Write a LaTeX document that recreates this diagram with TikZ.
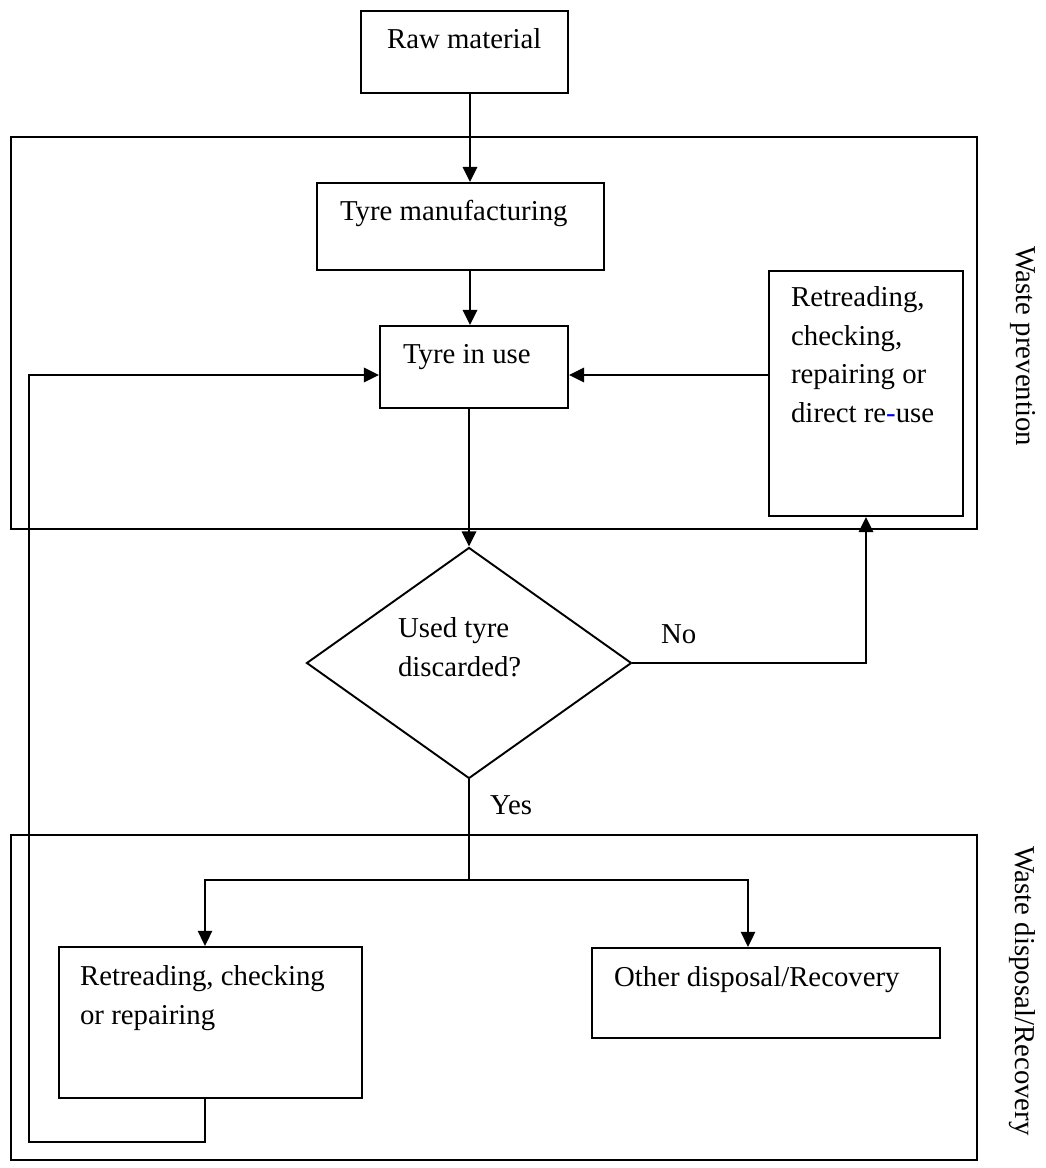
\documentclass[tikz,border=0pt]{standalone}
\usepackage{fontspec}
\setmainfont{Liberation Serif}
\usetikzlibrary{shapes.geometric,arrows.meta}
\newlength\px
\setlength\px{0.41667pt}

\begin{document}
\begin{tikzpicture}
[x=0.41667pt, y=-0.41667pt, font=\fontsize{12}{16}\selectfont, line width=0.9pt,
box/.style={rectangle, draw, inner sep=0pt},
frame/.style={rectangle, draw, line width=0.7pt, inner sep=0pt},
txt/.style={inner sep=0pt, anchor=base west, align=left},
side/.style={rotate=-90, anchor=west, inner sep=0pt},
decision/.style={diamond, draw, line width=0.8pt, inner sep=0pt},
arr/.style={-{Triangle[length=6.3pt,width=6pt]}}]

\useasboundingbox (0,0) rectangle (1045,1168);

% frames
\node[frame, minimum width=966\px, minimum height=392\px] (prev) at (494,333) {};
\node[frame, minimum width=966\px, minimum height=325\px] (disp) at (494,997.5) {};
\node[side] (prevlbl) at (1023,245) {Waste prevention};
\node[side] (displbl) at (1022,845) {Waste disposal/Recovery};

% boxes
\node[box, minimum width=207\px, minimum height=82\px] (raw) at (464.5,52) {};
\node[box, minimum width=287\px, minimum height=87\px] (tm) at (460.5,226.5) {};
\node[box, minimum width=188\px, minimum height=82\px] (tiu) at (474,367) {};
\node[box, minimum width=194\px, minimum height=245\px] (rr) at (866,393.5) {};
\node[decision, minimum width=325\px, minimum height=231\px] (dec) at (469,663) {};
\node[box, minimum width=303\px, minimum height=151\px] (lr) at (210.5,1022.5) {};
\node[box, minimum width=348\px, minimum height=90\px] (od) at (766,993) {};

% texts (base = last line)
\node[txt] (rawtxt) at (386,48.5) {Raw material};
\node[txt] (tmtxt) at (339,221) {Tyre manufacturing};
\node[txt] (tiutxt) at (402,364) {Tyre in use};
\node[txt] (rrtxt) at (790,422) {Retreading,\\checking,\\repairing or\\direct re\textcolor{blue}{-}use};
\node[txt] (dectxt) at (397,676) {Used tyre\\discarded?};
\node[txt] (lrtxt) at (79,1024) {Retreading, checking\\or repairing};
\node[txt] (odtxt) at (613,986) {Other disposal/Recovery};
\node[txt] (no) at (660,643) {No};
\node[txt] (yes) at (489,814) {Yes};

% connectors
\coordinate (vline) at (470,0);
\coordinate (fb) at (0,375);
\coordinate (split) at (469,880);
\coordinate (lrin) at (205,0);
\coordinate (odin) at (748,0);
\coordinate (loop) at (29,1142);

\draw[arr] (raw.south -| vline) -- (tm.north -| vline);
\draw[arr] (tm.south -| vline) -- (tiu.north -| vline);
\draw[arr] (tiu.south -| dec.north) -- (dec.north);
\draw[arr] (rr.west |- fb) -- (tiu.east |- fb);
\draw[arr] (dec.east) -| (rr.south);
\draw[line width=0.7pt] (dec.south) -- (split);
\draw[arr, line width=0.7pt] (split) -| (lr.north -| lrin);
\draw[arr, line width=0.7pt] (split) -| (od.north -| odin);
\draw[arr] (lr.south -| lrin) |- (loop) |- (tiu.west |- fb);
\end{tikzpicture}
\end{document}
